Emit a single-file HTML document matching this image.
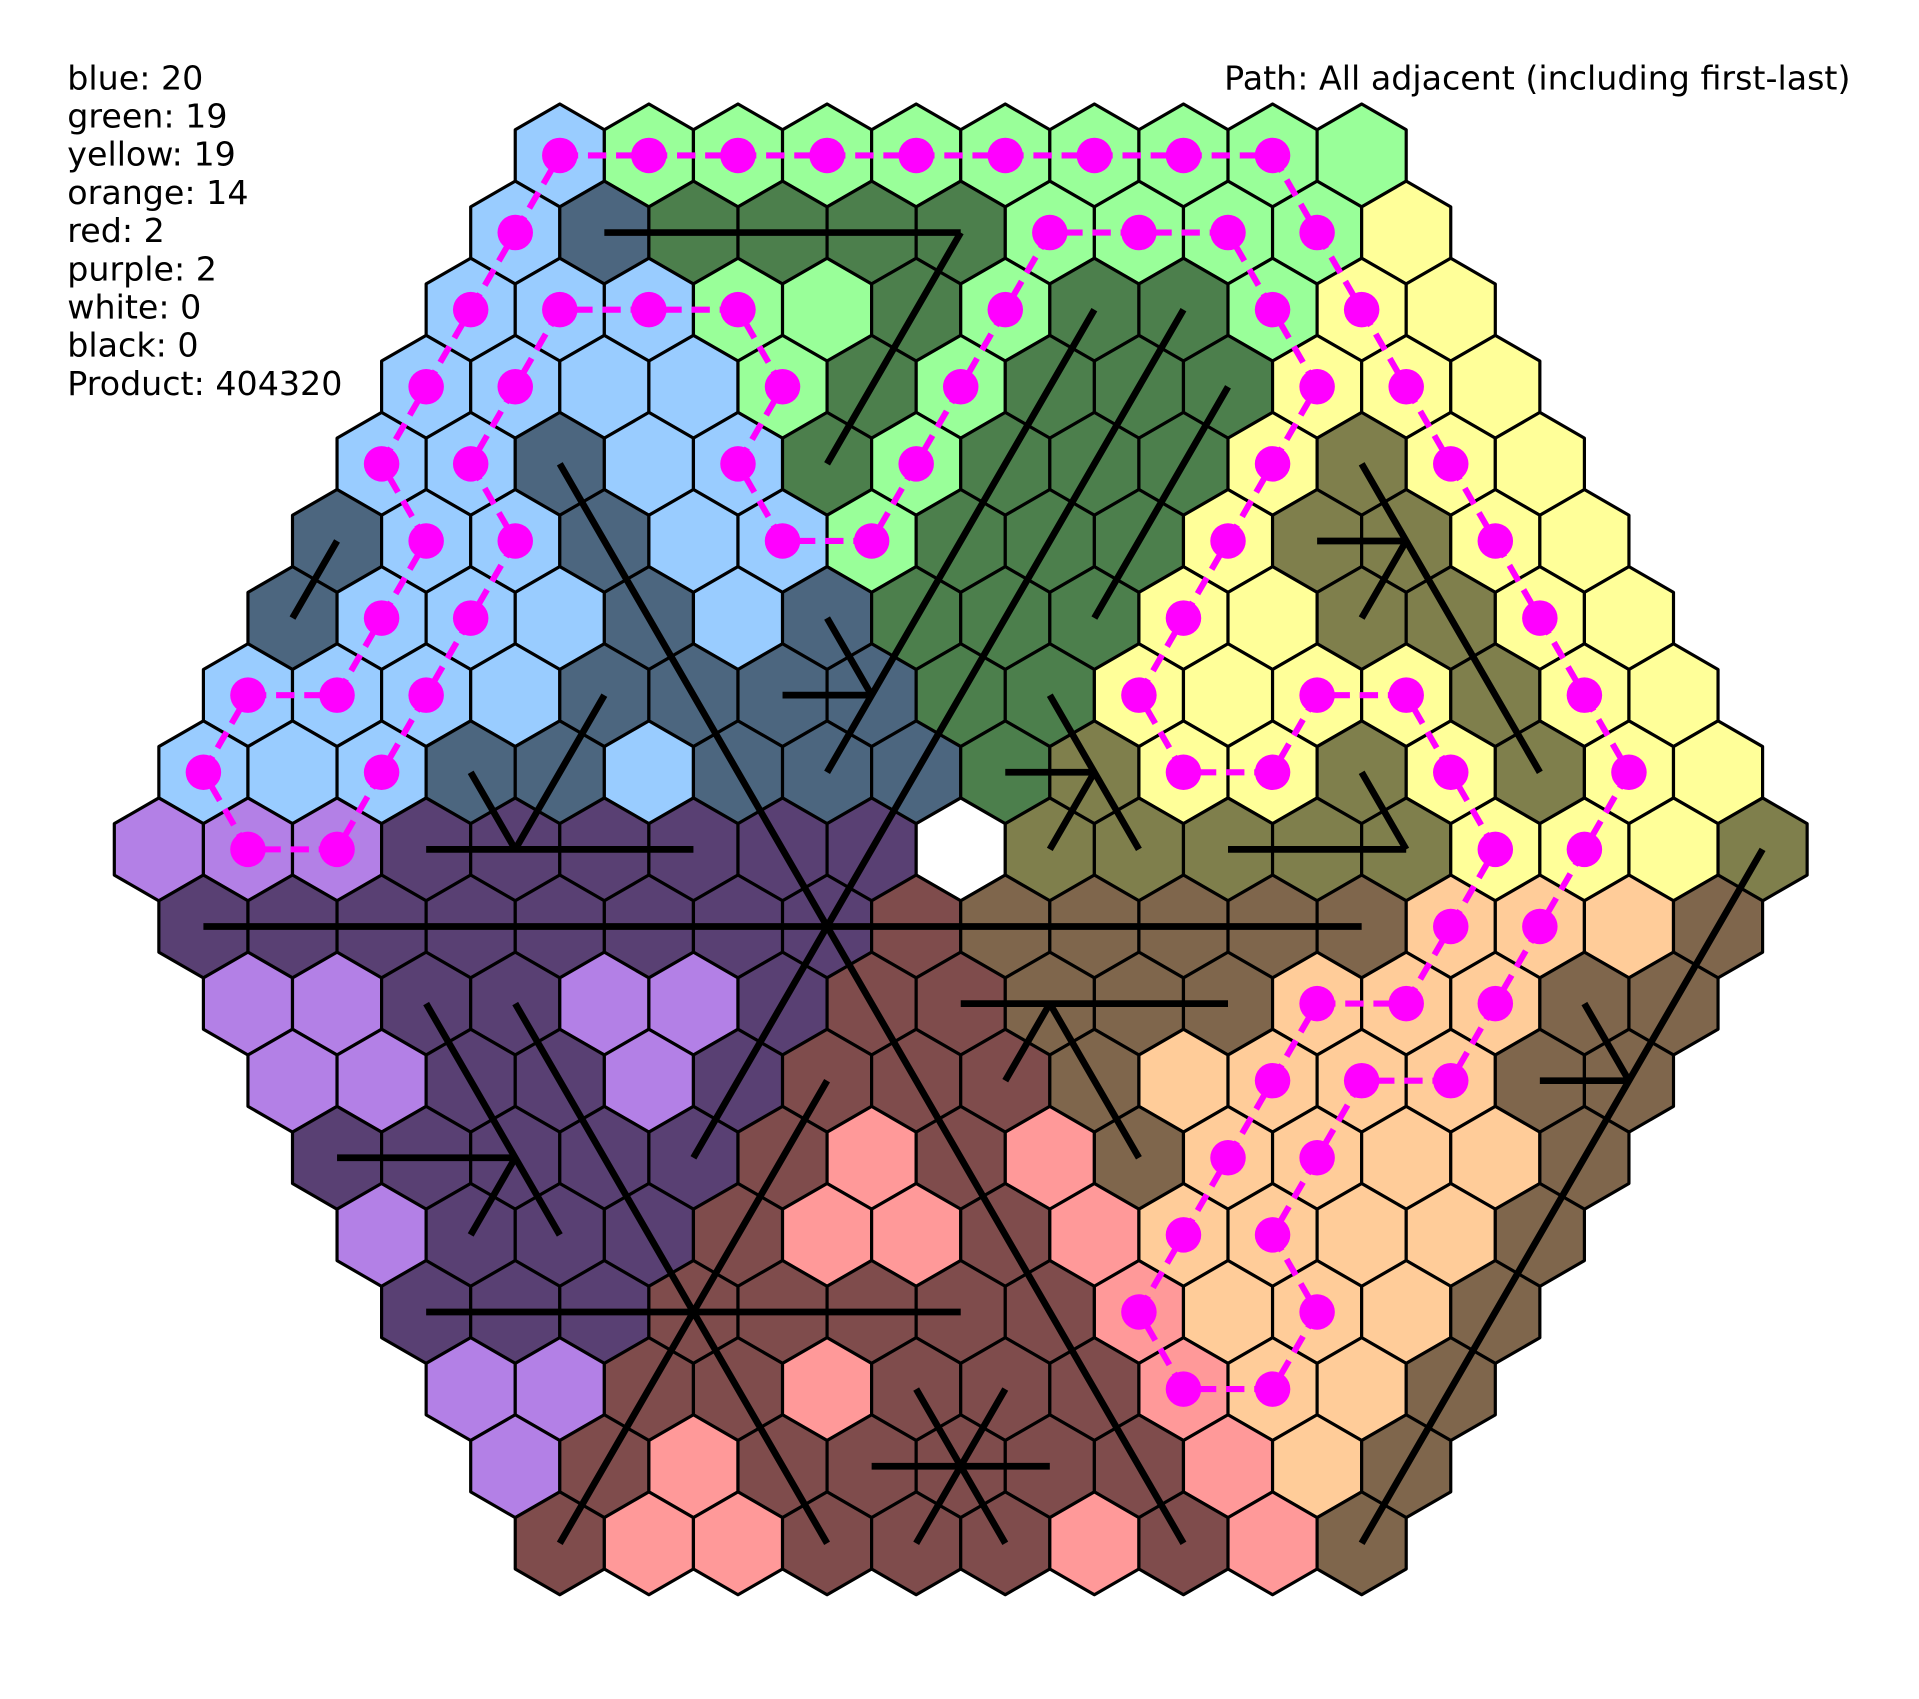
<!DOCTYPE html>
<html><head><meta charset="utf-8"><style>
html,body{margin:0;padding:0;background:#fff;}
svg{display:block;}
text{font-family:"DejaVu Sans","Liberation Sans",sans-serif;font-size:27.2px;fill:#000;}
</style></head><body>
<svg id="chart" width="1919" height="1699" viewBox="0 0 1568 1388.2" xmlns="http://www.w3.org/2000/svg">
<g id="legend">
<text x="55" y="73">blue: 20</text>
<text x="55" y="104.2">green: 19</text>
<text x="55" y="135.4">yellow: 19</text>
<text x="55" y="166.6">orange: 14</text>
<text x="55" y="197.8">red: 2</text>
<text x="55" y="229">purple: 2</text>
<text x="55" y="260.2">white: 0</text>
<text x="55" y="291.4">black: 0</text>
<text x="55" y="322.6">Product: 404320</text>
</g>
<text x="1512" y="73" text-anchor="end">Path: All adjacent (including first-last)</text>
<g id="hexes"></g>
<g id="lines"></g>
<g id="path"></g>
</svg>
<script>
// Row color codes (rows -9..9); lowercase = light, uppercase = dark, w = white
const rows = [
"bggggggggg",
"bBGGGGggggy",
"bbbggGgGGgyy",
"bbbbgGgGGGyyy",
"bbBbbGgGGGyYyy",
"BbbBbbgGGGyYYyy",
"BbbbBbBGGGyyYYyy",
"bbbbBBBBGGyyyyYyy",
"bbbBBbBBBGYyyYyYyy",
"pppPPPPPPwYYYYYyyyY",
"PPPPPPPPROOOOOoooO",
"ppPPppPRROOOoooOO",
"ppPPpPRRROooooOO",
"PPPPPRrRrOooooO",
"pPPPRrrRrooooO",
"PPPRRRRRroooO",
"ppRRrRRRrooO",
"pRrRRRRRroO",
"RrrRRRrRrO"
];
const palette = {
 b:"#99ccff", B:"#4c667f", g:"#99ff99", G:"#4c7f4c", y:"#ffff99", Y:"#7f7f4c",
 o:"#ffcc99", O:"#7f664c", r:"#ff9999", R:"#7f4c4c", p:"#b380e6", P:"#594073", w:"#ffffff"
};
// Black line segments: [rowStart, idxStart, rowEnd, idxEnd]
const segments = [
[-8,1,-8,5],[-8,5,-5,5],[-5,2,9,7],[-7,8,4,4],[-7,7,-1,7],[-6,9,-3,9],
[-4,0,-3,0],[-3,6,-2,7],[-2,6,-2,7],
[-2,4,0,4],[-1,3,0,4],[0,3,0,6],
[1,0,1,13],
[-5,11,-1,15],[-4,11,-4,12],[-4,12,-3,12],
[-2,9,0,11],[-1,9,-1,10],[-1,10,0,10],
[0,12,0,14],[-1,13,0,14],
[0,18,9,9],
[2,15,3,15],[3,14,3,15],
[2,8,2,11],[2,9,3,8],[2,9,4,9],
[2,2,5,2],[2,3,9,3],
[4,0,4,2],[4,2,5,1],
[6,0,6,6],
[9,0,3,6],
[8,4,8,6],[7,5,9,5],[7,6,9,4]
];
// Path cells: [row, idx]
const pathCells = [
[-9,0],[-9,1],[-9,2],[-9,3],[-9,4],[-9,5],[-9,6],[-9,7],[-9,8],
[-8,9],[-7,10],[-6,11],[-5,12],[-4,13],[-3,14],[-2,15],[-1,16],[0,16],[1,15],[2,14],[3,13],[3,12],
[4,11],[5,10],[6,10],[7,9],[7,8],[6,8],[5,9],[4,10],[3,11],[2,12],[2,13],[1,14],[0,15],[-1,14],
[-2,13],[-2,12],[-1,12],[-1,11],[-2,10],[-3,10],[-4,10],[-5,10],[-6,10],[-7,9],[-8,8],[-8,7],[-8,6],
[-7,6],[-6,6],[-5,6],[-4,6],[-4,5],[-5,4],[-6,4],[-7,3],[-7,2],[-7,1],[-6,1],[-5,1],[-4,2],[-3,2],
[-2,2],[-1,2],[0,2],[0,1],[-1,0],[-2,0],[-2,1],[-3,1],[-4,1],[-5,0],[-6,0],[-7,0],[-8,0]
];
const NS="http://www.w3.org/2000/svg";
const CX=785, CY=694, DX=72.8, DY=63, RAD=42.03;
function px(r,i){const n=19-Math.abs(r);return CX+DX*(i-(n-1)/2);}
function py(r){return CY+DY*r;}
const gH=document.getElementById('hexes');
rows.forEach((s,k)=>{
  const r=k-9;
  for(let i=0;i<s.length;i++){
    const x=px(r,i), y=py(r);
    let pts=[];
    for(let a=0;a<6;a++){const t=Math.PI/180*(60*a-90);pts.push((x+RAD*Math.cos(t)).toFixed(2)+","+(y+RAD*Math.sin(t)).toFixed(2));}
    const p=document.createElementNS(NS,'polygon');
    p.setAttribute('points',pts.join(' '));
    p.setAttribute('fill',palette[s[i]]);
    p.setAttribute('stroke','#000');
    p.setAttribute('stroke-width','2.6');
    p.setAttribute('stroke-linejoin','round');
    
    
    gH.appendChild(p);
  }
});
const gL=document.getElementById('lines');
segments.forEach(sg=>{
  const l=document.createElementNS(NS,'line');
  l.setAttribute('x1',px(sg[0],sg[1]));l.setAttribute('y1',py(sg[0]));
  l.setAttribute('x2',px(sg[2],sg[3]));l.setAttribute('y2',py(sg[2]));
  l.setAttribute('stroke','#000');l.setAttribute('stroke-width','5.5');
  
  
  gL.appendChild(l);
});
const gP=document.getElementById('path');
const pts=pathCells.map(c=>[px(c[0],c[1]),py(c[0])]);
for(let k=0;k<pts.length;k++){
  const a=pts[k], b=pts[(k+1)%pts.length];
  const l=document.createElementNS(NS,'line');
  l.setAttribute('x1',a[0]);l.setAttribute('y1',a[1]);
  l.setAttribute('x2',b[0]);l.setAttribute('y2',b[1]);
  l.setAttribute('stroke','#ff00ff');l.setAttribute('stroke-width','5');
  l.setAttribute('stroke-dasharray','15 8');
  
  
  gP.appendChild(l);
}
pts.forEach(p=>{
  const c=document.createElementNS(NS,'circle');
  c.setAttribute('cx',p[0]);c.setAttribute('cy',p[1]);c.setAttribute('r','14.5');
  c.setAttribute('fill','#ff00ff');
  
  
  gP.appendChild(c);
});
</script>
</body></html>
